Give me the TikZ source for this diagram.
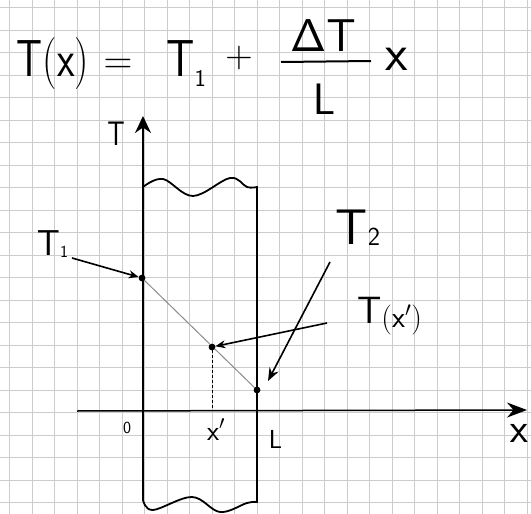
\RequirePackage{fix-cm}
\documentclass[tikz,border=0pt]{standalone}
\usepackage{graphicx}
\usetikzlibrary{arrows.meta}
\begin{document}
\begin{tikzpicture}[x=1pt,y=-1pt,
  gridline/.style={draw=black!20, line width=0.8pt},
  wall/.style={line width=2.4pt, line cap=round, line join=round},
  wavy/.style={line width=1.8pt, line cap=round, line join=round},
  axisline/.style={line width=1.5pt},
  dotpt/.style={circle, fill=black, inner sep=0pt, minimum size=6.5pt},
  callout/.style={line width=1.6pt, -{Stealth[length=10pt,width=8pt]}},
  lab/.style={inner sep=0pt, anchor=base},
]
\useasboundingbox (0,0) rectangle (531,514);
\fill[white] (0,0) rectangle (531,514);
% graph paper
\foreach \k in {0,...,23} \draw[gridline] (9.5+22.5*\k,0) -- (9.5+22.5*\k,514);
\foreach \k in {0,...,22} \draw[gridline] (0,7.5+22.5*\k) -- (531,7.5+22.5*\k);

% formula
\node[lab, font=\fontsize{52}{60}\selectfont] (fTx) at (53,76) {\scalebox{0.78}[1]{$\mathsf{T(x)}$}};
\node[lab, font=\fontsize{40}{48}\selectfont] (feq) at (118,74) {$\mathsf{=}$};
\node[lab, font=\fontsize{52}{60}\selectfont] (fT1) at (186,76) {\scalebox{0.85}[1]{$\mathsf{T}$}\raisebox{-10pt}{\fontsize{24}{28}\selectfont$\mathsf{1}$}};
\node[lab, font=\fontsize{38}{44}\selectfont] (fplus) at (239,67) {$\mathsf{+}$};
\node[lab, font=\fontsize{46}{54}\selectfont] (fnum) at (323,51) {$\mathsf{\Delta T}$};
\coordinate (fbarL) at (281,62);
\coordinate (fbarR) at (371,61);
\draw[line width=2pt] (fbarL) -- (fbarR);
\node[lab, font=\fontsize{44}{52}\selectfont] (fden) at (324,114) {$\mathsf{L}$};
\node[lab, font=\fontsize{52}{60}\selectfont] (fx) at (397,70) {$\mathsf{x}$};

% wall
\coordinate (wallLtop) at (143,187);
\coordinate (wallLbot) at (143,500);
\coordinate (wallRtop) at (257,187);
\coordinate (wallRbot) at (257,502);
\coordinate (Ttip) at (143,116);
\draw[wall] (wallLtop) -- (wallLbot);
\draw[wall] (wallRtop) -- (wallRbot);
\draw[wavy] plot[smooth, tension=0.6] coordinates {(143,187) (163,179) (193,196) (230,178) (247,187) (257,187)};
\draw[wavy] plot[smooth, tension=0.6] coordinates {(143,500) (153,510) (192,497) (220,512) (247,503) (257,502)};

% axes
\draw[axisline, -{Stealth[length=17pt,width=16pt]}] (wallLtop) -- (Ttip);
\coordinate (xstart) at (77,411);
\coordinate (xtip) at (527,410);
\draw[axisline, -{Stealth[length=20pt,width=15pt]}] (xstart) -- (xtip);

% temperature profile
\node[dotpt] (pT1) at (142,278) {};
\node[dotpt] (pTx) at (212,347) {};
\node[dotpt] (pT2) at (257,390) {};
\draw[black!45, line width=1pt] (pT1.center) -- (pT2.center);
\node[dotpt] at (pT1) {};
\node[dotpt] at (pTx) {};
\node[dotpt] at (pT2) {};
\coordinate (xpfoot) at (212,411);
\draw[line width=0.9pt, dash pattern=on 3pt off 2pt] (pTx) -- (xpfoot);

% axis labels
\node[lab, font=\fontsize{34}{40}\selectfont] (lT) at (116,145) {\scalebox{0.8}[1]{$\mathsf{T}$}};
\node[lab, font=\fontsize{17}{20}\selectfont] (l0) at (127,433) {$\mathsf{0}$};
\node[lab, font=\fontsize{28}{34}\selectfont] (lxp) at (216,440) {$\mathsf{x'}$};
\node[lab, font=\fontsize{26}{30}\selectfont] (lL) at (275.5,448) {$\mathsf{L}$};
\node[lab, font=\fontsize{42}{50}\selectfont] (lx) at (519,442) {$\mathsf{x}$};

% callouts
\node[lab, font=\fontsize{36}{42}\selectfont] (lT1) at (52.5,255) {$\mathsf{T}$\raisebox{-2pt}{\fontsize{17}{20}\selectfont$\mathsf{1}$}};
\coordinate (cT1) at (72,258);
\draw[callout] (cT1) -- (pT1);

\node[lab, font=\fontsize{50}{58}\selectfont] (lT2) at (358,244) {$\mathsf{T}$\raisebox{-1pt}{\fontsize{26}{30}\selectfont$\mathsf{2}$}};
\coordinate (cT2) at (330,262);
\coordinate (cT2end) at (268,381);
\draw[line width=1.6pt, -{Stealth[length=13pt,width=10pt]}] (cT2) -- (cT2end);

\node[lab, font=\fontsize{38}{44}\selectfont] (lTx) at (389.5,323) {$\mathsf{T}$\raisebox{-4.5pt}{\fontsize{30}{36}\selectfont$\mathsf{(x')}$}};
\coordinate (cTx) at (327,323);
\draw[callout] (cTx) -- (pTx);
\end{tikzpicture}
\end{document}
